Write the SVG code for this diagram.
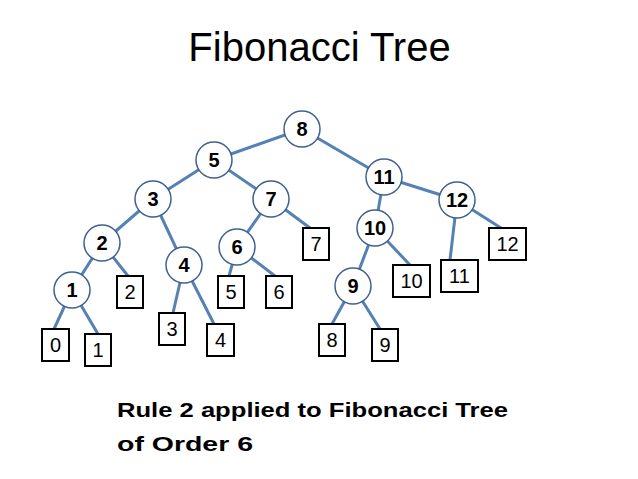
<svg xmlns="http://www.w3.org/2000/svg" width="638" height="479" viewBox="0 0 638 479">
<style>
.edge{stroke:#5581B5;stroke-width:3;fill:none;stroke-linecap:round}
.c{fill:#fff;stroke:#3E6190;stroke-width:1.5}
.b{fill:#fff;stroke:#000;stroke-width:2}
.ct{font-family:"Liberation Sans",Arial,sans-serif;font-weight:bold;font-size:20px;text-anchor:middle;fill:#000}
.bt{font-family:"Liberation Sans",Arial,sans-serif;font-size:20px;text-anchor:middle;fill:#000}
.title{font-family:"Liberation Sans",Arial,sans-serif;font-size:40px;text-anchor:middle;fill:#000}
.sub{font-family:"Liberation Sans",Arial,sans-serif;font-weight:bold;font-size:21px;fill:#000}
</style>
<rect width="638" height="479" fill="#fff"/>
<text class="title" x="319.5" y="61">Fibonacci Tree</text>
<g id="connectors">
<line class="edge" x1="302" y1="129" x2="214" y2="160"/>
<line class="edge" x1="302" y1="129" x2="384" y2="177"/>
<line class="edge" x1="214" y1="160" x2="153" y2="199"/>
<line class="edge" x1="214" y1="160" x2="271" y2="199"/>
<line class="edge" x1="153" y1="199" x2="102" y2="243"/>
<line class="edge" x1="153" y1="199" x2="184" y2="265"/>
<line class="edge" x1="102" y1="243" x2="72" y2="290"/>
<line class="edge" x1="102" y1="243" x2="128" y2="276"/>
<line class="edge" x1="72" y1="290" x2="54" y2="329"/>
<line class="edge" x1="72" y1="290" x2="98" y2="334"/>
<line class="edge" x1="184" y1="265" x2="173" y2="313"/>
<line class="edge" x1="184" y1="265" x2="214" y2="324"/>
<line class="edge" x1="271" y1="199" x2="237" y2="247"/>
<line class="edge" x1="271" y1="199" x2="310" y2="228"/>
<line class="edge" x1="237" y1="247" x2="229" y2="276"/>
<line class="edge" x1="237" y1="247" x2="275" y2="276"/>
<line class="edge" x1="384" y1="177" x2="375" y2="228"/>
<line class="edge" x1="384" y1="177" x2="457" y2="200"/>
<line class="edge" x1="375" y1="228" x2="353" y2="286"/>
<line class="edge" x1="375" y1="228" x2="410" y2="265"/>
<line class="edge" x1="353" y1="286" x2="332" y2="324"/>
<line class="edge" x1="353" y1="286" x2="380" y2="329"/>
<line class="edge" x1="457" y1="200" x2="450" y2="260"/>
<line class="edge" x1="457" y1="200" x2="501" y2="228"/>
</g>
<g id="n8"><circle class="c" cx="302" cy="129" r="18"/><text class="ct" x="302" y="136">8</text></g>
<g id="n5"><circle class="c" cx="214" cy="160" r="18"/><text class="ct" x="214" y="167">5</text></g>
<g id="n3"><circle class="c" cx="153" cy="199" r="18"/><text class="ct" x="153" y="206">3</text></g>
<g id="n7"><circle class="c" cx="271" cy="199" r="18"/><text class="ct" x="271" y="206">7</text></g>
<g id="n2"><circle class="c" cx="102" cy="243" r="18"/><text class="ct" x="102" y="250">2</text></g>
<g id="n6"><circle class="c" cx="237" cy="247" r="18"/><text class="ct" x="237" y="254">6</text></g>
<g id="n4"><circle class="c" cx="184" cy="265" r="18"/><text class="ct" x="184" y="272">4</text></g>
<g id="n1"><circle class="c" cx="72" cy="290" r="18"/><text class="ct" x="72" y="297">1</text></g>
<g id="n11"><circle class="c" cx="384" cy="177" r="18"/><text class="ct" x="384" y="184">11</text></g>
<g id="n12"><circle class="c" cx="457" cy="200" r="18"/><text class="ct" x="457" y="207">12</text></g>
<g id="n10"><circle class="c" cx="375" cy="228" r="18"/><text class="ct" x="375" y="235">10</text></g>
<g id="n9"><circle class="c" cx="353" cy="286" r="18"/><text class="ct" x="353" y="293">9</text></g>
<g id="b0"><rect class="b" x="42" y="329" width="27" height="32"/><text class="bt" x="55.5" y="352">0</text></g>
<g id="b1"><rect class="b" x="85" y="334" width="26" height="32"/><text class="bt" x="98" y="357">1</text></g>
<g id="b2"><rect class="b" x="117" y="276" width="26" height="32"/><text class="bt" x="130" y="299">2</text></g>
<g id="b3"><rect class="b" x="159" y="313" width="26" height="32"/><text class="bt" x="172" y="336">3</text></g>
<g id="b4"><rect class="b" x="207" y="324" width="27" height="32"/><text class="bt" x="220.5" y="347">4</text></g>
<g id="b5"><rect class="b" x="218" y="276" width="26" height="32"/><text class="bt" x="231" y="299">5</text></g>
<g id="b6"><rect class="b" x="266" y="276" width="26" height="32"/><text class="bt" x="279" y="299">6</text></g>
<g id="b7"><rect class="b" x="303" y="228" width="26" height="32"/><text class="bt" x="316" y="251">7</text></g>
<g id="b8"><rect class="b" x="319" y="324" width="26" height="32"/><text class="bt" x="332" y="347">8</text></g>
<g id="b9"><rect class="b" x="372" y="329" width="26" height="32"/><text class="bt" x="385" y="352">9</text></g>
<g id="b10"><rect class="b" x="393" y="265" width="37" height="32"/><text class="bt" x="411.5" y="288">10</text></g>
<g id="b11"><rect class="b" x="441" y="260" width="37" height="32"/><text class="bt" x="459.5" y="283">11</text></g>
<g id="b12"><rect class="b" x="489" y="228" width="37" height="32"/><text class="bt" x="507.5" y="251">12</text></g>
<text class="sub" x="117" y="417" textLength="391" lengthAdjust="spacingAndGlyphs">Rule 2 applied to Fibonacci Tree</text>
<text class="sub" x="117" y="451" textLength="136" lengthAdjust="spacingAndGlyphs">of Order 6</text>
</svg>
